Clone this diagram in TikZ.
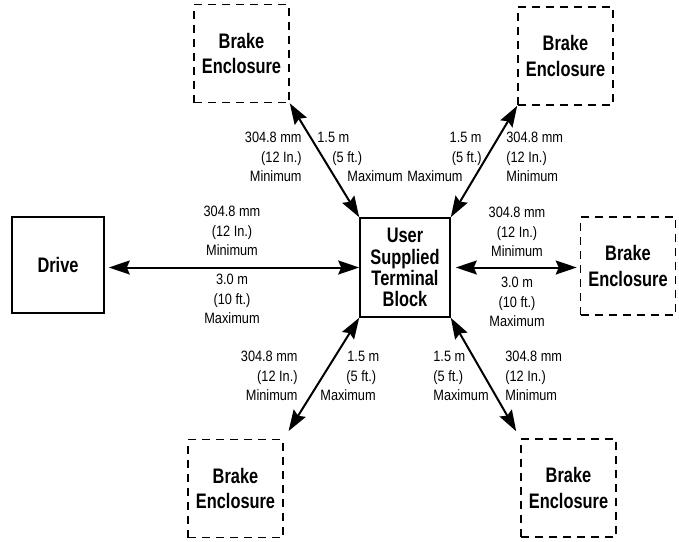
\documentclass[tikz,border=0pt]{standalone}
\usepackage{fontspec}
\setmainfont{Liberation Sans}[FakeStretch=0.85]
\newfontfamily\boxfont{Liberation Sans}[FakeStretch=0.78]
\usetikzlibrary{arrows.meta}

\tikzset{
  box/.style={draw, line width=0.8pt, minimum width=46pt, minimum height=49pt,
    inner sep=0pt, align=center, font=\boxfont\bfseries\fontsize{10.5}{12.8}\selectfont},
  brakebox/.style={box, dash pattern=on 4pt off 3pt, minimum width=47.5pt},
  dim/.style={draw, line width=1pt, {Stealth[length=10.5pt, width=7pt, inset=1.5pt]}-{Stealth[length=10.5pt, width=7pt, inset=1.5pt]}},
  note/.style={inner sep=0pt, font=\fontsize{7.5}{9.8}\selectfont},
}

\begin{document}
\begin{tikzpicture}[x=0.5pt, y=-0.5pt]
\useasboundingbox (0,0) rectangle (679,541);
% boxes
\node[box, minimum height=48pt] (drive) at (58,265) {Drive};
\node[box, minimum width=45pt, minimum height=49.5pt, font=\boxfont\bfseries\fontsize{10.5}{10.6}\selectfont] (tb) at (405,267.5) {User\\Supplied\\Terminal\\Block};
\node[brakebox] (bTL) at (241.5,53.5) {Brake\\Enclosure};
\node[brakebox] (bTR) at (565.5,56) {Brake\\Enclosure};
\node[brakebox] (bR) at (628,266) {Brake\\Enclosure};
\node[brakebox] (bBL) at (235.5,488.5) {Brake\\Enclosure};
\node[brakebox] (bBR) at (568.5,488) {Brake\\Enclosure};
% connectors
\draw[dim, shorten <=2pt] (tb.west -| drive.east) -- (tb.west);
\draw[dim, shorten <=2.5pt, shorten >=1.5pt] (tb.east) -- (tb.east -| bR.west);
\draw[dim] (tb.north west) -- (bTL.south east);
\draw[dim] (tb.north east) -- (bTR.south west);
\draw[dim, shorten >=4.5pt] (tb.south west) -- (bBL.north east);
\draw[dim, shorten >=4pt] (tb.south east) -- (bBR.north west);
% labels
\node[note, anchor=east, align=right] (minTL) at (302,157) {304.8 mm\\(12 In.)\\Minimum};
\node[note, anchor=west, align=left] (maxTL) at (317,157) {1.5 m\\\hspace*{7.5pt}(5 ft.)\\\hspace*{15pt}Maximum};
\node[note, anchor=east, align=right] (maxTR) at (482,157) {1.5 m\\(5 ft.)\hspace*{7pt}\\Maximum\hspace*{9.5pt}};
\node[note, anchor=west, align=left] (minTR) at (506,157) {304.8 mm\\(12 In.)\\Minimum};
\node[note, align=center] (minL) at (232,231) {304.8 mm\\(12 In.)\\Minimum};
\node[note, align=center] (maxL) at (232,299) {3.0 m\\(10 ft.)\\Maximum};
\node[note, align=center] (minR) at (517,232) {304.8 mm\\(12 In.)\\Minimum};
\node[note, align=center] (maxR) at (517,302) {3.0 m\\(10 ft.)\\Maximum};
\node[note, anchor=east, align=right] (minBL) at (298,376) {304.8 mm\\(12 In.)\\Minimum};
\node[note, anchor=west, align=left] (maxBL) at (320,376) {\hspace*{13.5pt}1.5 m\\\hspace*{13pt}(5 ft.)\\Maximum};
\node[note, anchor=west, align=left] (maxBR) at (433,376) {1.5 m\\(5 ft.)\\Maximum};
\node[note, anchor=west, align=left] (minBR) at (505,376) {304.8 mm\\(12 In.)\\Minimum};
\end{tikzpicture}
\end{document}
